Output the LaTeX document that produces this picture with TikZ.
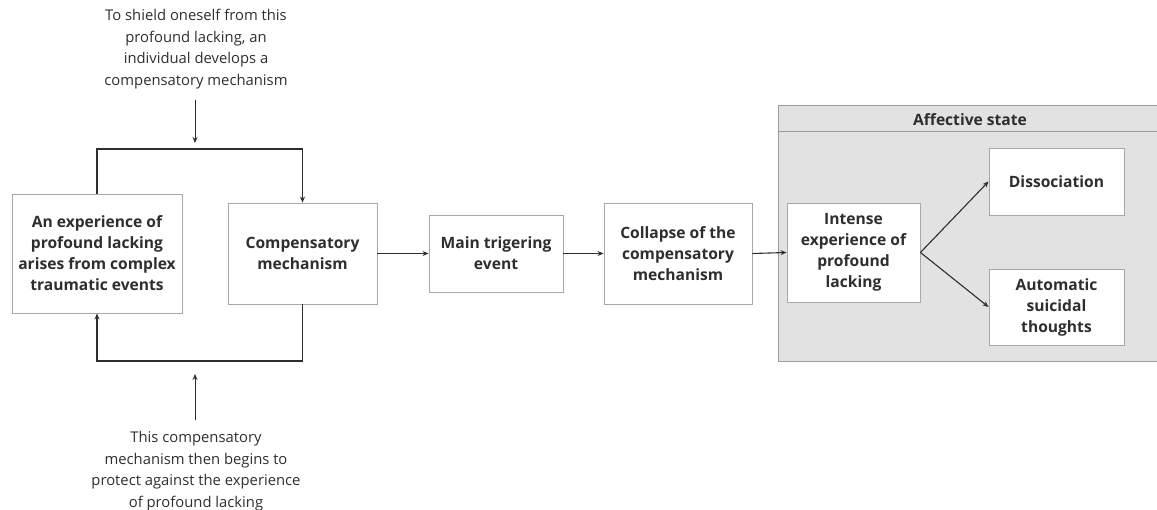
\documentclass[tikz,border=0pt]{standalone}
\usepackage{fontspec}
\setmainfont{Open Sans}
\usetikzlibrary{arrows.meta}
\definecolor{boxline}{HTML}{A8A8A8}
\definecolor{panelfill}{HTML}{E2E2E2}
\definecolor{panelline}{HTML}{9C9C9C}
\definecolor{inkgray}{HTML}{2E2E2E}
\tikzset{
	box/.style={draw=boxline, fill=white, line width=0.9pt, align=center, inner sep=2pt,
		font=\fontsize{15.6}{21}\selectfont\bfseries, text=inkgray},
	note/.style={align=center, font=\fontsize{14.8}{21.5}\selectfont, text=inkgray},
	arr/.style={-{Stealth[length=6pt,width=5pt]}, line width=1.1pt, draw=inkgray},
	loop/.style={line width=1.3pt, draw=inkgray}
}

\begin{document}
\begin{tikzpicture}[x=1pt, y=-1pt]
		%%%%% START %%%%%
		\useasboundingbox (0, 0) rectangle (1157, 510);
		
		% affective state panel
		\draw[draw=panelline, fill=panelfill, line width=1pt] (778, 106) rectangle (1157, 362);
		\draw[draw=panelline, line width=1pt] (778, 132) -- (1157, 132);
		\node[note, font=\fontsize{15.6}{21}\selectfont\bfseries] (panel) at (970, 119.5) {Affective state};
		
		\node[box, minimum width=170pt, minimum height=119pt] (lack) at (97, 253.5) {An experience of\\profound lacking\\arises from complex\\traumatic events};
		\node[box, minimum width=149pt, minimum height=101pt] (comp) at (302.5, 253.5) {Compensatory\\mechanism};
		\node[box, minimum width=134pt, minimum height=77pt] (trig) at (496, 253.5) {Main trigering\\event};
		\node[box, minimum width=148pt, minimum height=101pt] (coll) at (678, 253.5) {Collapse of the\\compensatory\\mechanism};
		\node[box, minimum width=133pt, minimum height=99pt] (intense) at (853.5, 252.5) {Intense\\experience of\\profound\\lacking};
		\node[box, minimum width=135pt, minimum height=67pt] (diss) at (1056.5, 181.5) {Dissociation};
		\node[box, minimum width=135pt, minimum height=76pt] (auto) at (1056.5, 307) {Automatic\\suicidal\\thoughts};
		
		\node[note] (topnote) at (196, 49) {To shield oneself from this\\profound lacking, an\\individual develops a\\compensatory mechanism};
		\node[note] (botnote) at (196, 471) {This compensatory\\mechanism then begins to\\protect against the experience\\of profound lacking};
		
		% feedback loop
		\coordinate (looptop) at (200, 149);
		\coordinate (loopbot) at (200, 361);
		\draw[loop, arr] (lack.north) |- (looptop) -| (comp.north);
		\draw[loop, arr] (comp.south) |- (loopbot) -| (lack.south);
		
		\coordinate (topfrom) at (195, 100);
		\coordinate (topto) at (195, 143);
		\coordinate (botfrom) at (195, 420);
		\coordinate (botto) at (195, 374);
		\draw[arr, line width=0.9pt] (topfrom) -- (topto);
		\draw[arr, line width=0.9pt] (botfrom) -- (botto);
		
		% main chain
		\draw[arr] (comp.east) -- (trig.west);
		\draw[arr] (trig.east) -- (coll.west);
		\draw[arr] (coll.east) -- (intense.west);
		\draw[arr] (intense.east) -- (diss.west);
		\draw[arr] (intense.east) -- (auto.west);
		%%%%% END %%%%%
	\end{tikzpicture}
\end{document}
